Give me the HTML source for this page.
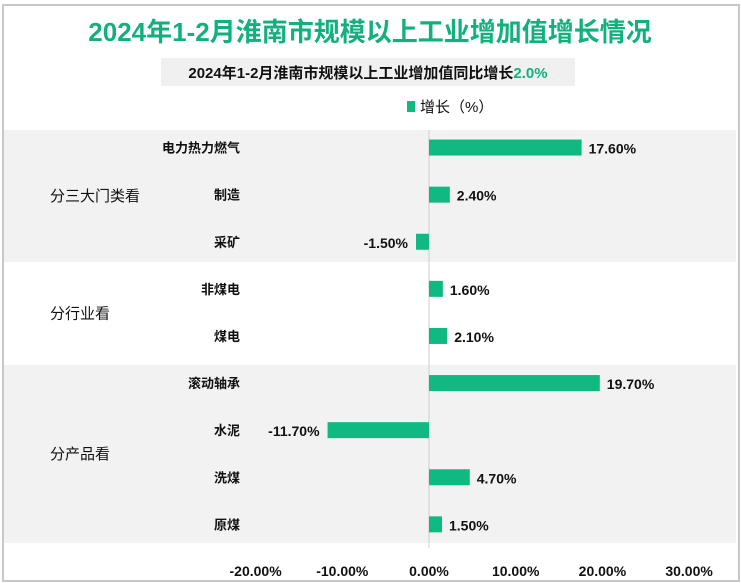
<!DOCTYPE html>
<html><head><meta charset="utf-8"><style>
body{margin:0;width:741px;height:583px;background:#fff;overflow:hidden;font-family:"Liberation Sans","Noto Sans CJK SC",sans-serif}
#frame{position:absolute;left:2px;top:4px;width:734px;height:574px;border:2px solid #c8c8c8}
</style></head><body>
<div id="frame"></div>
<svg id="c" width="741" height="583" style="position:absolute;left:0;top:0"></svg>
<script>
const categories=["电力热力燃气","制造","采矿","非煤电","煤电","滚动轴承","水泥","洗煤","原煤"];
const values=[17.6,2.4,-1.5,1.6,2.1,19.7,-11.7,4.7,1.5];
const groups=["分三大门类看","分行业看","分产品看"];
const groupSizes=[3,2,4];
const ticks=[-20,-10,0,10,20,30];
const NS="http://www.w3.org/2000/svg";
const svg=document.getElementById('c');
function el(t,a,txt){const e=document.createElementNS(NS,t);for(const k in a)e.setAttribute(k,a[k]);if(txt!=null)e.textContent=txt;svg.appendChild(e);return e;}
const x0=429,pxPer=8.67,top0=124,rowH=47.1;
const xs=v=>x0+v*pxPer;
const yc=i=>top0+rowH*(i+0.5);
const bandEdges=[130,262,365,543];
let start=0;
groups.forEach((g,gi)=>{
  const y1=bandEdges[gi],y2=bandEdges[gi+1];
  if(gi!==1){const b=el('rect',{x:4,y:y1,width:732,height:y2-y1,fill:'#f2f2f2'});
  }
  const t=el('text',{x:50,y:(y1+y2)/2+5,'font-size':15,fill:'#111'},g);
  
  start+=groupSizes[gi];
});
const zl=el('line',{x1:x0,x2:x0,y1:130,y2:548,stroke:'#cfcfcf','stroke-width':1});

categories.forEach((c,i)=>{
  const y=yc(i),v=values[i];
  const lab=el('text',{x:240,y:y+5,'text-anchor':'end','font-size':13,'font-weight':'bold',fill:'#111'},c);
  
  const a=Math.min(xs(0),xs(v)),w=Math.abs(xs(v)-xs(0));
  const r=el('rect',{x:a,y:y-8,width:w,height:16,fill:'#10b981'});
  
  const t=el('text',{x:v>=0?xs(v)+7:xs(v)-8,y:y+6,'text-anchor':v>=0?'start':'end','font-size':14,'font-weight':'bold',fill:'#111'},v.toFixed(2)+'%');
  
});
ticks.forEach(v=>{
  const t=el('text',{x:xs(v),y:576,'text-anchor':'middle','font-size':14,'font-weight':'bold',fill:'#111'},v.toFixed(2)+'%');
  
});
const ti=el('text',{x:370,y:41,'text-anchor':'middle','font-size':26,'font-weight':'bold',fill:'#12b07e'},'2024年1-2月淮南市规模以上工业增加值增长情况');

const sb=el('rect',{x:161,y:58,width:414,height:28,fill:'#f0f0f0'});

const st=el('text',{x:368,y:78,'text-anchor':'middle','font-size':15,'font-weight':'bold',fill:'#111'});

const s1=document.createElementNS(NS,'tspan');s1.textContent='2024年1-2月淮南市规模以上工业增加值同比增长';st.appendChild(s1);
const s2=document.createElementNS(NS,'tspan');s2.setAttribute('fill','#12b07e');s2.textContent='2.0%';st.appendChild(s2);
const lk=el('rect',{x:407,y:101,width:8,height:11,fill:'#10b981'});

const lt=el('text',{x:420,y:112,'font-size':15,fill:'#111'},'增长（%）');

</script>
</body></html>
